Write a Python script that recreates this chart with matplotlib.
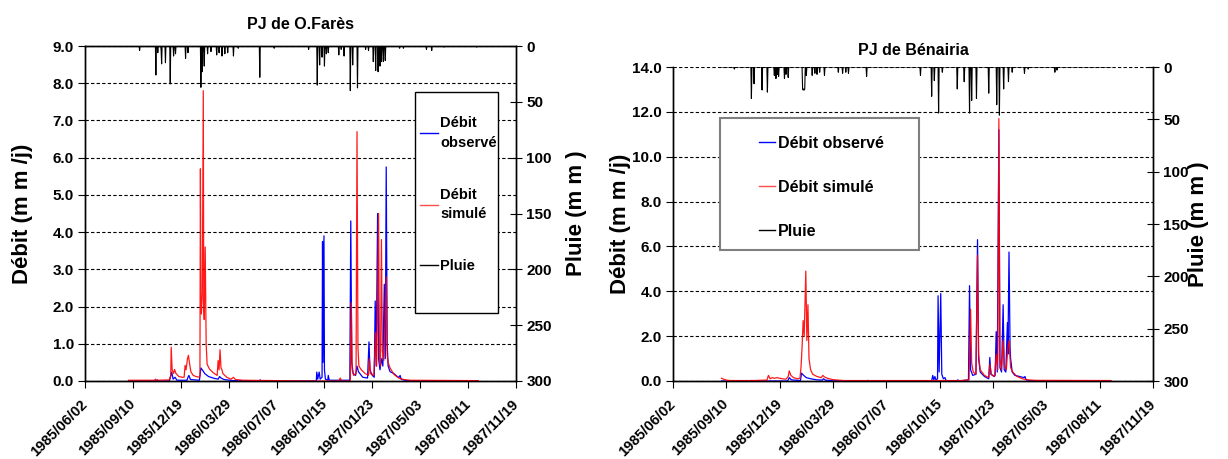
import numpy as np
import pandas as pd
import matplotlib
matplotlib.use("Agg")
import matplotlib.pyplot as plt
from matplotlib.patches import Rectangle
from matplotlib.lines import Line2D
from matplotlib.font_manager import FontProperties

plt.rcParams['font.family'] = ['Liberation Sans', 'DejaVu Sans']

# ---------------------------------------------------------------- data
AXIS_START = pd.Timestamp('1985-06-02')
TICK_STEP_DAYS = 100
N_TICK_STEPS = 9
SERIES_START_DAY = 91      # 1985/09/01
SERIES_END_DAY = 821       # 1987/08/31

# day numbers are counted from AXIS_START
fares_obs_days = [91, 148, 151, 153, 176, 178, 181, 184, 188, 192, 213, 215, 217, 220,
                  239, 242, 246, 250, 258, 270, 278, 281, 284, 290, 310, 364, 366, 368,
                  483, 484, 486, 489, 491, 495, 496, 497, 499, 500, 502, 507, 508, 510,
                  553, 555, 557, 560, 565, 568, 571, 580, 590, 593, 595, 600, 604, 606,
                  608, 611, 613, 616, 619, 622, 625, 627, 629, 631, 633, 637, 645, 652,
                  656, 658, 660, 670, 821]
fares_obs = [0, 0, 0.03, 0, 0, 0.08, 0.24, 0.05, 0.10, 0.02, 0.02, 0.10, 0.15, 0.04,
             0.02, 0.35, 0.28, 0.20, 0.12, 0.07, 0.05, 0.12, 0.08, 0.04, 0.01, 0, 0.03, 0,
             0, 0.24, 0.05, 0.24, 0.05, 0.10, 3.75, 0.50, 3.90, 0.30, 0.05, 0.02, 0.15, 0.02,
             0.02, 4.30, 0.50, 0.20, 0.15, 0.40, 0.25, 0.10, 0.08, 1.05, 0.30, 0.15, 0.10, 2.15,
             0.40, 4.50, 0.60, 0.30, 0.60, 0.40, 2.60, 0.60, 5.75, 1.00, 0.40, 0.25, 0.20, 0.12,
             0.10, 0.15, 0.05, 0.01, 0]

fares_sim_days = [91, 100, 145, 147, 149, 176, 179, 180, 182, 185, 187, 190, 196, 203,
                  207, 209, 211, 214, 216, 218, 221, 226, 232, 239, 240, 241, 242, 243,
                  245, 247, 248, 249, 251, 253, 255, 260, 268, 276, 278, 280, 282, 284,
                  286, 288, 292, 296, 305, 310, 314, 330, 480, 530, 533, 536, 554, 556,
                  558, 561, 566, 568, 570, 572, 577, 585, 592, 594, 596, 603, 607, 609,
                  613, 615, 617, 619, 621, 624, 627, 629, 631, 633, 637, 645, 655, 665,
                  680, 821]
fares_sim = [0.02, 0.02, 0.02, 0.05, 0.02, 0.03, 0.15, 0.91, 0.30, 0.20, 0.31, 0.20, 0.12, 0.10,
             0.10, 0.42, 0.30, 0.60, 0.69, 0.50, 0.25, 0.15, 0.12, 0.10, 0.15, 5.70, 2.40, 1.80,
             2.30, 7.80, 2.00, 1.65, 3.60, 1.00, 0.45, 0.32, 0.22, 0.15, 0.55, 0.30, 0.84, 0.35,
             0.30, 0.20, 0.15, 0.10, 0.05, 0.10, 0.04, 0.02, 0.0, 0.0, 0.08, 0.0, 0.0, 2.10,
             0.30, 0.15, 0.20, 6.70, 0.90, 0.40, 0.30, 0.20, 0.15, 0.60, 0.20, 0.15, 1.30, 0.40,
             4.50, 0.60, 0.40, 3.80, 0.80, 0.55, 1.70, 2.80, 0.70, 0.50, 0.35, 0.18, 0.08, 0.04,
             0.02, 0.01]

fares_rain_days = [114, 148, 152, 159, 160, 168, 178, 185, 189, 210, 215, 242, 245, 249,
                   256, 263, 275, 280, 286, 292, 298, 310, 320, 365, 395, 467, 485, 490,
                   495, 500, 504, 508, 530, 535, 541, 554, 559, 569, 586, 592, 602, 607,
                   612, 616, 619, 623, 627, 657, 665, 713, 724, 750, 818]
fares_rain = [4, 26, 6, 4, 16, 15, 34, 9, 7, 11, 6, 37, 23, 18,
              7, 5, 8, 6, 9, 7, 6, 9, 2, 28, 2, 3, 35, 17,
              10, 18, 7, 6, 8, 3, 9, 40, 17, 37.5, 3, 4, 14, 22,
              23, 18, 14, 14, 13, 2, 2, 3, 4, 1, 1]

benairia_obs_days = [91, 146, 148, 150, 215, 218, 222, 239, 241, 245, 250, 258, 270, 280,
                     282, 286, 300, 363, 365, 367, 485, 487, 489, 491, 493, 496, 497, 499,
                     502, 504, 507, 510, 512, 532, 534, 536, 554, 556, 558, 562, 568, 571,
                     573, 576, 584, 592, 594, 596, 602, 604, 606, 608, 611, 613, 616, 619,
                     621, 624, 627, 628, 630, 632, 633, 636, 641, 650, 658, 660, 662, 670,
                     821]
benairia_obs = [0, 0, 0.03, 0, 0, 0.15, 0.05, 0.02, 0.35, 0.25, 0.15, 0.10, 0.05, 0.04,
                0.10, 0.04, 0.01, 0, 0.03, 0, 0, 0.25, 0.05, 0.20, 0.05, 0.10, 3.80, 0.40,
                3.90, 0.30, 0.10, 0.15, 0.02, 0, 0.05, 0, 0.05, 4.25, 0.50, 0.25, 0.30, 6.30,
                1.00, 0.40, 0.20, 0.10, 1.05, 0.30, 0.20, 0.25, 2.20, 0.40, 11.20, 0.60, 0.40, 3.40,
                0.50, 0.40, 2.60, 1.20, 5.75, 1.50, 1.00, 0.40, 0.25, 0.20, 0.15, 0.20, 0.05, 0.01,
                0]

benairia_sim_days = [91, 95, 100, 108, 150, 160, 176, 179, 182, 186, 190, 195, 200, 205,
                     212, 216, 218, 221, 226, 233, 238, 240, 242, 244, 246, 249, 251, 253,
                     255, 258, 262, 270, 278, 281, 284, 290, 300, 320, 540, 555, 558, 560,
                     563, 568, 571, 573, 576, 584, 592, 594, 597, 603, 606, 609, 611, 613,
                     616, 619, 621, 625, 628, 630, 633, 637, 645, 655, 665, 680, 821]
benairia_sim = [0.12, 0.08, 0.04, 0.02, 0.02, 0.03, 0.04, 0.25, 0.10, 0.15, 0.12, 0.15, 0.12, 0.10,
                0.08, 0.20, 0.45, 0.25, 0.15, 0.10, 0.12, 0.60, 1.50, 2.70, 2.00, 4.90, 1.80, 3.40,
                1.00, 0.50, 0.30, 0.20, 0.15, 0.25, 0.18, 0.12, 0.06, 0.02, 0.02, 0.05, 3.20, 0.80,
                0.40, 0.30, 5.60, 1.20, 0.50, 0.25, 0.15, 0.75, 0.30, 0.20, 1.20, 0.50, 11.70, 1.00,
                0.50, 1.80, 0.70, 0.50, 1.50, 1.80, 0.60, 0.40, 0.20, 0.10, 0.05, 0.03, 0.02]

benairia_rain_days = [115, 147, 152, 167, 177, 190, 193, 196, 198, 209, 212, 216, 243, 244,
                      245, 246, 247, 250, 261, 266, 270, 275, 284, 310, 318, 324, 329, 363,
                      464, 485, 490, 498, 505, 533, 546, 556, 560, 569, 592, 607, 612, 620,
                      629, 636, 659, 666, 716, 720]
benairia_rain = [2, 30, 16, 22, 24, 8, 11, 7, 9, 11, 7, 10, 21, 22,
                 21, 22, 21, 8, 8, 6, 7, 5, 8, 5, 6, 5, 6, 9,
                 8, 28, 13, 44, 5, 21, 14, 44, 32, 30, 25, 36, 46, 21,
                 14, 5, 6, 2, 5, 3]

LEGEND_LABELS_FARES = ['Débit\nobservé', 'Débit\nsimulé', 'Pluie']
LEGEND_LABELS_BENAIRIA = ['Débit observé', 'Débit simulé', 'Pluie']

OBS_COLOR = '#0000FF'
SIM_COLOR = '#FF0000'
RAIN_COLOR = '#000000'


def to_dates(days):
    return AXIS_START + pd.to_timedelta(np.asarray(days), unit='D')


def daily_rain(days, values):
    d = np.arange(SERIES_START_DAY, SERIES_END_DAY + 1)
    v = np.zeros(d.size)
    for day, val in zip(days, values):
        v[day - SERIES_START_DAY] = val
    return to_dates(d), v


tick_dates = to_dates(np.arange(N_TICK_STEPS + 1) * TICK_STEP_DAYS)
tick_labels = [t.strftime('%Y/%m/%d') for t in tick_dates]


def panel(rect, title, title_pad, obs_days, obs, sim_days, sim, rain_days, rain,
          ymax, ystep, ylab_x, rlab_x, top_spine):
    ax = fig.add_axes(rect)
    ax.plot(to_dates(obs_days), obs, color=OBS_COLOR, lw=0.9, zorder=3)
    ax.plot(to_dates(sim_days), sim, color=SIM_COLOR, lw=0.9, alpha=0.9, zorder=4)
    ax.set_xlim(tick_dates[0], tick_dates[-1])
    ax.set_ylim(0, ymax)
    yt = np.arange(0, ymax + ystep / 2, ystep)
    ax.set_yticks(yt)
    ax.set_yticklabels([f'{v:.1f}' for v in yt])
    ax.yaxis.grid(True, color='black', linestyle=(0, (3, 2)), lw=0.8)
    ax.set_axisbelow(True)
    ax.set_xticks(tick_dates)
    ax.set_xticklabels(tick_labels)
    ax.tick_params(axis='x', direction='out', length=5, pad=10, labelsize=10.5)
    ax.tick_params(axis='y', direction='out', length=5, pad=3, labelsize=11)
    for lbl in ax.get_xticklabels():
        lbl.set_rotation(45)
        lbl.set_ha('right')
        lbl.set_va('center')
        lbl.set_rotation_mode('anchor')
        lbl.set_fontweight('bold')
    for lbl in ax.get_yticklabels():
        lbl.set_fontweight('bold')

    ax2 = ax.twinx()
    rd, rv = daily_rain(rain_days, rain)
    ax2.plot(rd, rv, color=RAIN_COLOR, lw=0.8)
    ax2.set_ylim(300, 0)
    ax2.set_yticks(np.arange(0, 301, 50))
    ax2.tick_params(axis='y', direction='inout', length=9, pad=3, labelsize=11)
    for lbl in ax2.get_yticklabels():
        lbl.set_fontweight('bold')
    for a in (ax, ax2):
        for s in a.spines.values():
            s.set_linewidth(1.0)
        a.spines['top'].set_visible(top_spine)

    ax.set_title(title, fontsize=11.5, fontweight='bold', pad=title_pad)
    ax.text(ylab_x, 0.5, 'Débit (m m /j)', transform=ax.transAxes, rotation=90,
            ha='center', va='center', fontsize=16, fontweight='bold')
    ax.text(rlab_x, 0.5, 'Pluie (m m )', transform=ax.transAxes, rotation=90,
            ha='center', va='center', fontsize=16, fontweight='bold')
    return ax, ax2


def legend(ax2, labels, anchor, fontsize, handlelength, textpad, spacing, linespacing,
           frame, edgecolor, edgewidth):
    handles = [Line2D([], [], color=OBS_COLOR, lw=1.0),
               Line2D([], [], color=SIM_COLOR, lw=1.0, alpha=0.7),
               Line2D([], [], color=RAIN_COLOR, lw=1.0)]
    ax2.add_patch(Rectangle(frame[:2], frame[2], frame[3], transform=ax2.transAxes,
                            facecolor='white', edgecolor=edgecolor, lw=edgewidth,
                            zorder=10, clip_on=False))
    leg = ax2.legend(handles, labels, loc='upper left', bbox_to_anchor=anchor,
                     frameon=False, borderpad=0, borderaxespad=0,
                     prop=FontProperties(family=['Liberation Sans', 'DejaVu Sans'],
                                         weight='bold', size=fontsize),
                     handlelength=handlelength, handletextpad=textpad,
                     labelspacing=spacing)
    leg.set_zorder(11)
    for t in leg.get_texts():
        t.set_linespacing(linespacing)


W, H = 1228, 459
fig = plt.figure(figsize=(W / 100, H / 100), dpi=100)

axL, axL2 = panel([85 / W, (H - 381) / H, 431 / W, 335 / H], 'PJ de O.Farès', 12,
                  fares_obs_days, fares_obs, fares_sim_days, fares_sim,
                  fares_rain_days, fares_rain, 9.0, 1.0, -0.146, 1.1415, True)
legend(axL2, LEGEND_LABELS_FARES, (0.777, 0.79), 10.5, 1.25, 0.15, 2.6, 1.5,
       (0.766, 0.203, 0.192, 0.66), 'black', 1.0)

axR, axR2 = panel([673 / W, (H - 381) / H, 480 / W, 314 / H], 'PJ de Bénairia', 9,
                  benairia_obs_days, benairia_obs, benairia_sim_days, benairia_sim,
                  benairia_rain_days, benairia_rain, 14.0, 2.0, -0.110, 1.094, False)
legend(axR2, LEGEND_LABELS_BENAIRIA, (0.179, 0.78), 11.5, 1.0, 0.2, 1.8, 1.2,
       (0.098, 0.417, 0.415, 0.420), '#7f7f7f', 1.5)

fig.savefig('out.png', dpi=100)
